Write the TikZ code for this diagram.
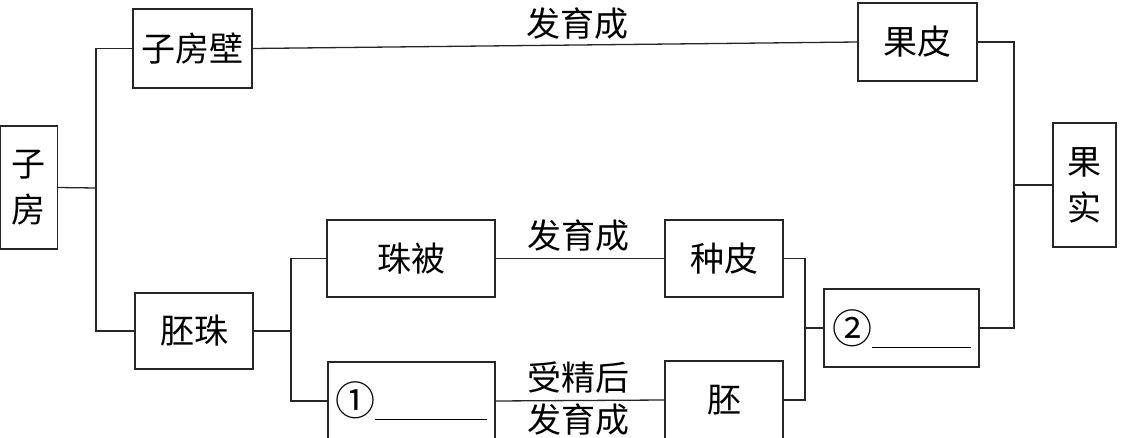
\documentclass[tikz,border=0pt]{standalone}
\usepackage{fontspec}
\setmainfont{Noto Sans CJK SC}
\begin{document}
\begin{tikzpicture}[x=1pt,y=-1pt,
  box/.style={draw=black!85,line width=1.4pt,inner sep=0pt,outer sep=0pt,font=\fontsize{34}{46}\selectfont},
  lbl/.style={inner sep=0pt,font=\fontsize{34}{38}\selectfont},
  con/.style={draw=black!85,line width=1.3pt}]
\useasboundingbox (0,0) rectangle (1123,438);
\clip (0,0) rectangle (1123,438);
% boxes
\node[box,minimum width=57pt,minimum height=123pt,align=center] (zf) at (29,187.5) {子\\房};
\node[box,minimum width=119pt,minimum height=79pt] (zfb) at (192.5,48.5) {子房壁};
\node[box,minimum width=118pt,minimum height=76pt] (pz) at (194,331) {胚珠};
\node[box,minimum width=168pt,minimum height=77pt] (zb) at (411,258.5) {珠被};
\node[box,minimum width=118pt,minimum height=77pt] (zp) at (724,258.5) {种皮};
\node[box,minimum width=167pt,minimum height=78pt] (b1) at (411.5,401) {};
\node[box,minimum width=118pt,minimum height=78pt] (pei) at (724,400) {胚};
\node[box,minimum width=155pt,minimum height=78pt] (b2) at (901.5,328) {};
\node[box,minimum width=119pt,minimum height=78pt] (gp) at (917.5,42) {果皮};
\node[box,minimum width=63pt,minimum height=124pt,align=center] (gs) at (1084.5,185) {果\\实};
% blanks
\node[lbl,anchor=west,font=\fontsize{40}{44}\selectfont] (n1) at (335,401) {①\rule[-4pt]{112pt}{1.3pt}};
\node[lbl,anchor=west,font=\fontsize{40}{44}\selectfont] (n2) at (832,329) {②\rule[-4pt]{99pt}{1.3pt}};
% junctions
\coordinate (j1) at (96,188);
\coordinate (j2) at (291,331);
\coordinate (j3) at (805,328);
\coordinate (j4) at (1014,185);
% connectors
\draw[con] (zf.east) -- (j1);
\draw[con] (zfb.west) -| (j1) |- (pz.west);
\draw[con] (pz.east) -- (j2);
\draw[con] (zb.west) -| (j2) |- (b1.west);
\draw[con] (zfb.east) -- (gp.west);
\draw[con] (zb.east) -- (zp.west);
\draw[con] (b1.east) -- (pei.west);
\draw[con] (zp.east) -| (j3) |- (pei.east);
\draw[con] (j3) -- (b2.west);
\draw[con] (gp.east) -| (j4) |- (b2.east);
\draw[con] (j4) -- (gs.west);
% edge labels
\node[lbl] (t1) at (577,24) {发育成};
\node[lbl] (t2) at (578,236) {发育成};
\node[lbl] (t3) at (578,378) {受精后};
\node[lbl] (t4) at (578,420) {发育成};
\end{tikzpicture}
\end{document}
